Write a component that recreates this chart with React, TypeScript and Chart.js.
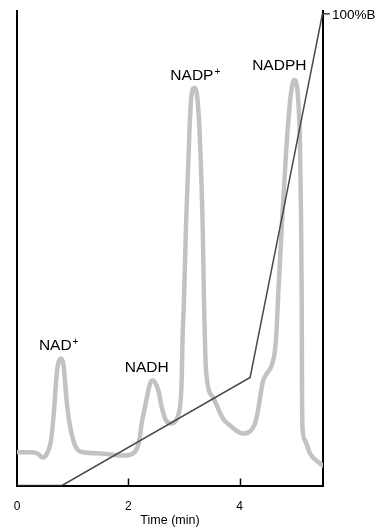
import React, { useEffect, useRef } from 'react';
import { Chart, registerables } from 'chart.js';

Chart.register(...registerables);

// Chromatogram trace (time in min, detector signal in arbitrary units 0-100)
const traceTimes = [
  0, 0.23, 0.36, 0.47, 0.539, 0.611, 0.67, 0.714, 0.746, 0.785,
  0.827, 0.85, 0.904, 1.012, 1.132, 1.49, 1.905, 2.085, 2.157, 2.198,
  2.241, 2.301, 2.36, 2.399, 2.439, 2.48, 2.54, 2.601, 2.678, 2.78,
  2.858, 2.912, 2.942, 2.96, 2.975, 3.001, 3.037, 3.1, 3.136, 3.187,
  3.235, 3.28, 3.338, 3.361, 3.397, 3.523, 3.702, 3.828, 4.062, 4.188,
  4.278, 4.332, 4.367, 4.421, 4.493, 4.578, 4.637, 4.668, 4.696, 4.775,
  4.847, 4.925, 4.984, 5.045, 5.086, 5.104, 5.117, 5.122, 5.131, 5.176,
  5.266, 5.446, 5.5,
];
const traceSignal = [
  7.0, 7.0, 6.8, 5.9, 6.75, 9.49, 16.46, 23.63, 25.95, 26.79,
  25.95, 23.63, 16.46, 9.49, 7.17, 6.77, 6.33, 6.75, 7.81, 9.49,
  13.08, 16.52, 20.04, 21.73, 22.15, 21.73, 20.04, 16.52, 13.71, 13.08,
  13.71, 15.4, 17.93, 22.15, 30.59, 39.03, 54.43, 74.89, 82.28, 83.76,
  82.28, 74.89, 54.43, 39.03, 24.26, 18.57, 14.13, 12.66, 10.97, 11.39,
  13.08, 15.82, 18.35, 21.94, 23.63, 25.32, 28.48, 33.33, 40.51, 58.02,
  72.15, 82.7, 85.44, 82.7, 72.15, 58.02, 40.51, 22.15, 12.24, 9.49,
  6.75, 4.64, 4.22,
];

// Solvent gradient (%B)
const gradientTimes = [0, 0.81, 4.19, 5.49];
const gradientPercentB = [0, 0, 22.9, 100];
const gradientEndLabel = '100%B';
const gradientEndValue = 100;

// Axis
const xTickValues = [0, 2, 4];
const xAxisTitle = 'Time (min)';

// Peak labels
const peakNames = ['NAD', 'NADH', 'NADP', 'NADPH'];
const peakCharges = ['+', '', '+', ''];
const peakTimes = [0.785, 2.439, 3.187, 4.984];
const peakSignals = [26.8, 22.15, 83.8, 85.4];

// Styles (pixel offsets for label placement)
const labelDx = [-2, -6, 1, -15];
const labelDy = [-8, -8, -8, -10];
const FONT = '"Liberation Sans", Arial, Helvetica, sans-serif';
const INK = '#000000';

const annotationPlugin = {
  id: 'annotations',
  afterDatasetsDraw(chart: any) {
    const { ctx, chartArea } = chart;
    const xs = chart.scales.x;
    const ys = chart.scales.y;
    const yb = chart.scales.y1;
    ctx.save();

    // inward tick marks on the time axis
    ctx.strokeStyle = INK;
    ctx.lineWidth = 1.5;
    xTickValues.forEach((v) => {
      if (v === 0) return;
      const px = Math.round(xs.getPixelForValue(v)) + 0.5;
      ctx.beginPath();
      ctx.moveTo(px, chartArea.bottom);
      ctx.lineTo(px, chartArea.bottom - 7);
      ctx.stroke();
    });

    // peak labels
    ctx.fillStyle = INK;
    ctx.textBaseline = 'alphabetic';
    peakNames.forEach((name, i) => {
      const mainFont = `15.5px ${FONT}`;
      const supFont = `10px ${FONT}`;
      ctx.font = mainFont;
      const wMain = ctx.measureText(name).width;
      let wSup = 0;
      if (peakCharges[i]) {
        ctx.font = supFont;
        wSup = ctx.measureText(peakCharges[i]).width + 1;
      }
      const cx = xs.getPixelForValue(peakTimes[i]) + labelDx[i];
      const base = ys.getPixelForValue(peakSignals[i]) + labelDy[i];
      const left = cx - (wMain + wSup) / 2;
      ctx.font = mainFont;
      ctx.textAlign = 'left';
      ctx.fillText(name, left, base);
      if (peakCharges[i]) {
        ctx.font = supFont;
        ctx.fillText(peakCharges[i], left + wMain + 1, base - 5);
      }
    });

    // 100%B marker
    const py = yb.getPixelForValue(gradientEndValue);
    const rx = chartArea.right;
    ctx.strokeStyle = '#444';
    ctx.lineWidth = 1.5;
    ctx.beginPath();
    ctx.moveTo(rx, py);
    ctx.lineTo(rx + 7, py);
    ctx.stroke();
    ctx.font = `13.5px ${FONT}`;
    ctx.textAlign = 'left';
    ctx.textBaseline = 'middle';
    ctx.fillStyle = INK;
    ctx.fillText(gradientEndLabel, rx + 9, py + 1);
    ctx.restore();
  },
};

export default function App() {
  const canvasRef = useRef<HTMLCanvasElement | null>(null);

  useEffect(() => {
    if (!canvasRef.current) return;
    const chart = new Chart(canvasRef.current, {
      type: 'line',
      data: {
        datasets: [
          {
            label: '%B',
            data: gradientTimes.map((t, i) => ({ x: t, y: gradientPercentB[i] })),
            yAxisID: 'y1',
            borderColor: '#4a4a4a',
            borderWidth: 1.5,
            pointRadius: 0,
            tension: 0,
          },
          {
            label: 'Signal',
            data: traceTimes.map((t, i) => ({ x: t, y: traceSignal[i] })),
            yAxisID: 'y',
            borderColor: '#c2c2c2',
            borderWidth: 4.5,
            pointRadius: 0,
            cubicInterpolationMode: 'monotone',
            borderCapStyle: 'round',
            borderJoinStyle: 'round',
          },
        ],
      },
      options: {
        animation: false,
        responsive: true,
        maintainAspectRatio: false,
        layout: { padding: { left: 17, right: 56, top: 11, bottom: 0.5 } },
        plugins: { legend: { display: false }, tooltip: { enabled: false } },
        scales: {
          x: {
            type: 'linear',
            min: 0,
            max: 5.5,
            afterBuildTicks: (scale: any) => {
              scale.ticks = xTickValues.map((v) => ({ value: v }));
            },
            grid: { display: true, drawOnChartArea: false, drawTicks: false },
            border: { display: true, color: INK, width: 2 },
            ticks: {
              padding: 13.5,
              color: INK,
              font: { family: FONT, size: 12 },
            },
            title: {
              display: true,
              text: xAxisTitle,
              color: INK,
              font: { family: FONT, size: 12.5 },
              padding: { top: -13.4, bottom: 0 },
            },
          },
          y: {
            type: 'linear',
            position: 'left',
            min: 0,
            max: 100,
            grid: { display: true, drawOnChartArea: false, drawTicks: false },
            border: { display: true, color: INK, width: 2 },
            ticks: { display: false },
          },
          y1: {
            type: 'linear',
            position: 'right',
            min: 0,
            max: 100.6,
            grid: { display: true, drawOnChartArea: false, drawTicks: false },
            border: { display: true, color: INK, width: 2 },
            ticks: { display: false },
          },
        },
      },
      plugins: [annotationPlugin],
    });
    return () => chart.destroy();
  }, []);

  return (
    <div style={{ position: 'fixed', left: 0, top: 0, width: 379, height: 529, background: '#fff' }}>
      <canvas ref={canvasRef} />
    </div>
  );
}
